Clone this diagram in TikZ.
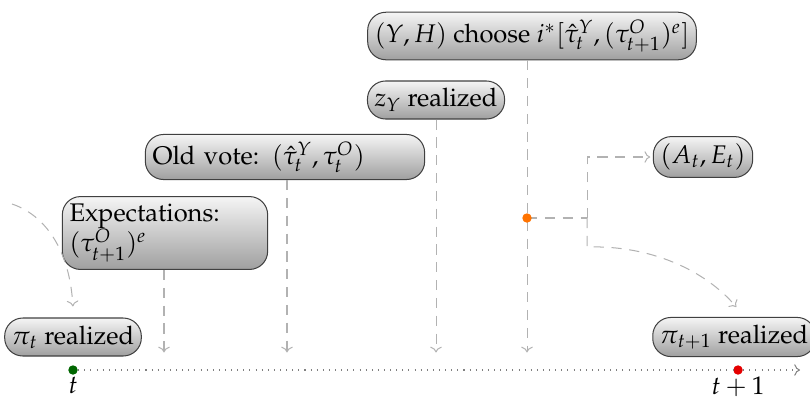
\documentclass[tikz,border=0pt]{standalone}
\usepackage[T1]{fontenc}
\usepackage{mathpazo}
\usetikzlibrary{arrows.meta, positioning}
\tikzset{
    evbox/.style={rectangle, rounded corners=2.5mm, draw=black!75, top color=gray!8, bottom color=gray!75, inner sep=2.8pt, minimum height=38*0.0138cm},
    tline/.style={draw=gray, dotted, -{To[length=0.8mm, width=1.6mm]}},
    flow/.style={draw=gray!60, dash pattern=on 4pt off 3pt, shorten >=1pt, -{To[length=0.8mm, width=1.6mm]}},
    tdot/.style={circle, inner sep=0pt, minimum size=1.3mm},
}

\begin{document}
\begin{tikzpicture}[x=0.0138cm, y=-0.0138cm]
    \useasboundingbox (0,0) rectangle (810,398);
    % Events
    \node[evbox] (pit) at (73,337) {$\pi_t$ realized};
    \node[evbox, align=left, text width=191*0.0138cm] (expect) at (165,233) {Expectations:\\$(\tau^O_{t+1})^e$};
    \node[evbox, align=left, text width=265*0.0138cm] (oldvote) at (285,157) {Old vote: $(\hat\tau^Y_t, \tau^O_t)$};
    \node[evbox] (zy) at (436,100) {$z_Y$ realized};
    \node[evbox] (choose) at (532,36) {$(Y,H)$ choose $i^*[\hat\tau^Y_t,(\tau^O_{t+1})^e]$};
    \node[evbox] (ae) at (703,157) {$(A_t,E_t)$};
    \node[evbox] (pit1) at (734,337) {$\pi_{t+1}$ realized};

    % Time line
    \coordinate (axis) at (0,355);
    \coordinate (tend) at (800,370);
    \node[tdot, fill=green!40!black] (t0) at (73,370) {};
    \node[tdot, fill=red!90!black] (t1) at (738,370) {};
    \draw[tline] (t0) -- (t1) -- (tend);
    \node[below=0.5pt of t0, inner sep=0pt] (tlab) {$t$};
    \node[below=0.5pt of t1, inner sep=0pt] (t1lab) {$t+1$};

    % Arrows to the line
    \coordinate (split) at (527,218);
    \coordinate (branch) at (587,218);
    \coordinate (prev) at (12,204);
    \draw[flow] (expect.south -| 164,0) -- (164,355);
    \draw[flow] (oldvote.south -| 287,0) -- (287,355);
    \draw[flow] (zy) -- (zy |- axis);
    \draw[flow] (split |- choose.south) -- (split |- axis);
    \draw[gray!60, dash pattern=on 4pt off 3pt] (split) -- (branch);
    \draw[flow] (branch) |- (ae.west);
    \draw[flow] (branch) -- ++(0,29) .. controls (650,245) and (705,270) .. (738,309);
    \draw[flow] (prev) .. controls (45,215) and (70,250) .. (73,309);
    \node[tdot, fill=orange!90!red] (splitdot) at (split) {};
\end{tikzpicture}
\end{document}
